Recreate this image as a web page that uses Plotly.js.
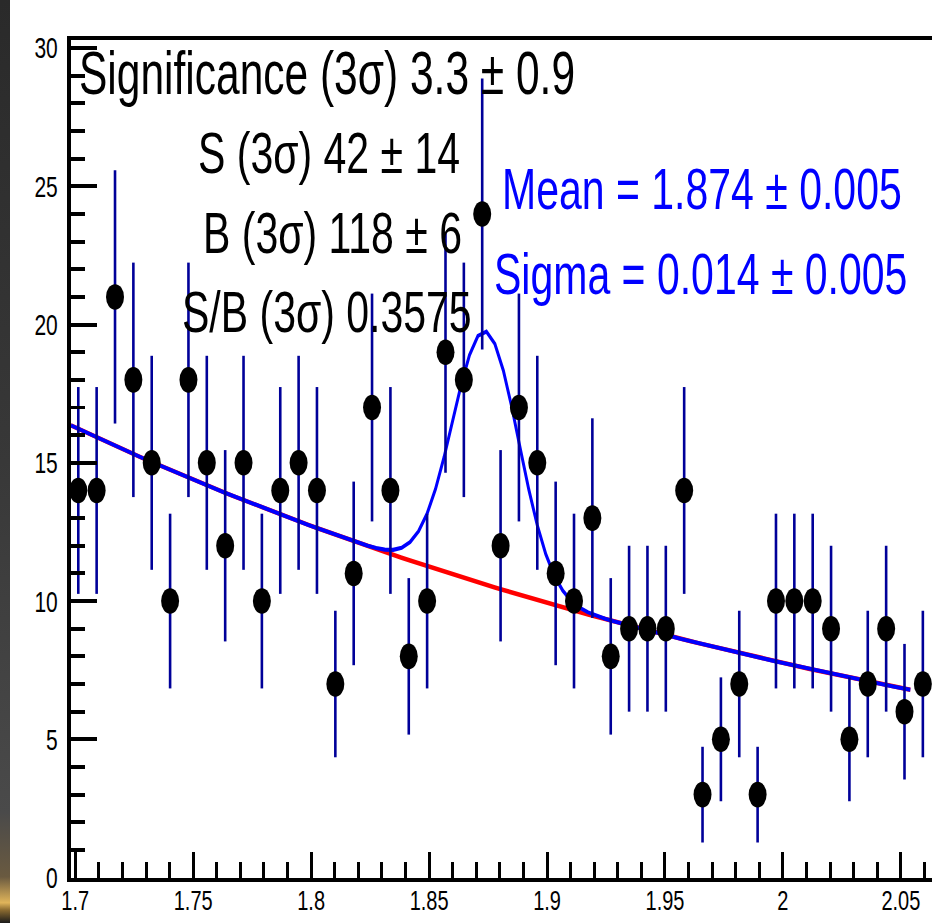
<!DOCTYPE html>
<html>
<head>
<meta charset="utf-8">
<script src="https://cdn.plot.ly/plotly-3.0.1.min.js"></script>
<style>
  html, body { margin: 0; padding: 0; background: #ffffff; width: 932px; height: 923px; overflow: hidden; }
  /* the canvas is drawn at reduced height and stretched vertically */
  #wrap { position: absolute; left: 0; top: 0; width: 932px; height: 650px; transform: scaleY(1.42); transform-origin: 0 0; }
  #chart { width: 932px; height: 650px; }
  #edge { position: absolute; left: 0; top: 0; width: 10px; height: 923px;
          background: linear-gradient(to bottom, #2a2a2a 0%, #383838 50%, #4a4a4a 88%, #6a5a40 95%, #e0b45a 97.8%, #8a6a30 98.6%, #1a1a1a 100%); }
</style>
</head>
<body>
<div id="wrap"><div id="chart"></div></div>
<div id="edge"></div>
<script>
// invariant-mass histogram: bin centres (GeV) and entries
const massBins = [1.70129, 1.70907, 1.71686, 1.72464, 1.73242, 1.74021, 1.74799, 1.75577, 1.76356, 1.77134,
                  1.77912, 1.78691, 1.79469, 1.80247, 1.81026, 1.81804, 1.82582, 1.83361, 1.84139, 1.84917,
                  1.85696, 1.86474, 1.87252, 1.88031, 1.88809, 1.89587, 1.90366, 1.91144, 1.91922, 1.92701,
                  1.93479, 1.94257, 1.95036, 1.95814, 1.96592, 1.97371, 1.98149, 1.98927, 1.99706, 2.00484,
                  2.01262, 2.02041, 2.02819, 2.03597, 2.04376, 2.05154, 2.05932];
const counts = [14, 14, 21, 18, 15, 10, 18, 15, 12, 15,
                10, 14, 15, 14, 7, 11, 17, 14, 8, 10,
                19, 18, 24, 12, 17, 15, 11, 10, 13, 8,
                9, 9, 9, 14, 3, 5, 7, 3, 10, 10,
                10, 9, 5, 7, 9, 6, 7];
const countErr = [3.74, 3.74, 4.58, 4.24, 3.87, 3.16, 4.24, 3.87, 3.46, 3.87,
                  3.16, 3.74, 3.87, 3.74, 2.65, 3.32, 4.12, 3.74, 2.83, 3.16,
                  4.36, 4.24, 4.90, 3.46, 4.12, 3.87, 3.32, 3.16, 3.61, 2.83,
                  3.00, 3.00, 3.00, 3.74, 1.73, 2.24, 2.65, 1.73, 3.16, 3.16,
                  3.16, 3.00, 2.24, 2.65, 3.00, 2.45, 2.65];

// axis ticks
const xTickVals = [1.7, 1.75, 1.8, 1.85, 1.9, 1.95, 2.0, 2.05];
const xTickText = ['1.7', '1.75', '1.8', '1.85', '1.9', '1.95', '2', '2.05'];
const yTickVals = [0, 5, 10, 15, 20, 25, 30];
const yTickText = ['0', '5', '10', '15', '20', '25', '30'];

// fit model: exponential background exp(p0 + p1*m) plus a Gaussian peak
const fitRange = [1.6982, 2.054];
const bkgPar = [6.989, -2.47];
const gausPar = [9.16, 1.874, 0.014];   // amplitude, mean, sigma
const fitNpx = 100;

// fit summary lines
const statLines = ['Significance (3\u03c3) 3.3 \u00b1 0.9', 'S (3\u03c3) 42 \u00b1 14', 'B (3\u03c3) 118 \u00b1 6', 'S/B (3\u03c3) 0.3575'];
const peakLines = ['Mean = 1.874 \u00b1 0.005', 'Sigma = 0.014 \u00b1 0.005'];

function bkg(m) { return Math.exp(bkgPar[0] + bkgPar[1] * m); }
function gaus(m) { const d = (m - gausPar[1]) / gausPar[2]; return gausPar[0] * Math.exp(-0.5 * d * d); }

const fx = [], fBkg = [], fTot = [];
for (let i = 0; i < fitNpx; i++) {
  const m = fitRange[0] + (fitRange[1] - fitRange[0]) * i / (fitNpx - 1);
  fx.push(m); fBkg.push(bkg(m)); fTot.push(bkg(m) + gaus(m));
}

const traces = [
  { x: fx, y: fBkg, mode: 'lines', line: { color: '#ff0000', width: 3.2 }, hoverinfo: 'skip' },
  { x: fx, y: fTot, mode: 'lines', line: { color: '#0000ff', width: 2.9 }, hoverinfo: 'skip' },
  { x: massBins, y: counts, mode: 'markers',
    marker: { color: '#000000', size: 18, symbol: 'circle' },
    error_y: { type: 'data', array: countErr, visible: true, color: '#000099', thickness: 2.6, width: 0 } }
];

const font = 'Liberation Sans, Arial, Helvetica, sans-serif';
const statX = [1.8067, 1.8076, 1.8090, 1.8069];
const statY = [29.08, 26.19, 23.30, 20.45];
const statSize = [42.5, 41, 41, 41];
const peakX = [1.9659, 1.9650];
const peakY = [24.89, 21.82];

const annotations = [];
statLines.forEach((t, i) => annotations.push({ x: statX[i], y: statY[i], xref: 'x', yref: 'y', text: t, showarrow: false,
  xanchor: 'center', yanchor: 'middle', font: { family: font, size: statSize[i], color: '#000000' } }));
peakLines.forEach((t, i) => annotations.push({ x: peakX[i], y: peakY[i], xref: 'x', yref: 'y', text: t, showarrow: false,
  xanchor: 'center', yanchor: 'middle', font: { family: font, size: 41, color: '#0000ff' } }));

const layout = {
  width: 932, height: 650,
  margin: { l: 71, r: 0, t: 28, b: 32, pad: 0 },
  paper_bgcolor: '#ffffff', plot_bgcolor: '#ffffff',
  showlegend: false,
  xaxis: {
    range: [1.6982, 2.0632], showgrid: false, zeroline: false,
    showline: true, linecolor: '#000000', linewidth: 3, mirror: true,
    ticks: 'inside', ticklen: 18, tickwidth: 3, tickcolor: '#000000',
    tickvals: xTickVals, ticktext: xTickText, ticklabelstandoff: -4,
    tickfont: { family: font, size: 20, color: '#000000' },
    minor: { dtick: 0.01, tick0: 1.7, ticks: 'inside', ticklen: 11, tickwidth: 3, tickcolor: '#000000', showgrid: false }
  },
  yaxis: {
    range: [0, 30.3], showgrid: false, zeroline: false,
    showline: true, linecolor: '#000000', linewidth: 4,
    ticks: 'inside', ticklen: 26, tickwidth: 2.8, tickcolor: '#000000',
    tickvals: yTickVals, ticktext: yTickText, ticklabelstandoff: 5,
    tickfont: { family: font, size: 21, color: '#000000' },
    minor: { dtick: 1, tick0: 0, ticks: 'inside', ticklen: 14, tickwidth: 2.8, tickcolor: '#000000', showgrid: false }
  },
  annotations: annotations
};

Plotly.newPlot('chart', traces, layout, { staticPlot: true, displayModeBar: false });
</script>
</body>
</html>
